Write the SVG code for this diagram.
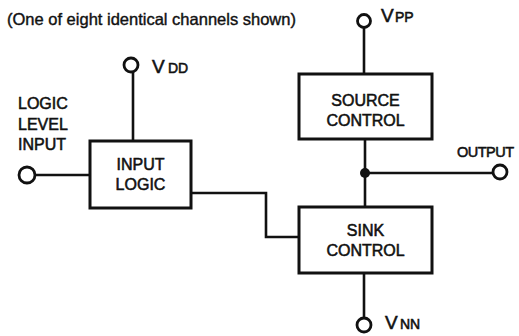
<svg xmlns="http://www.w3.org/2000/svg" width="519" height="336" viewBox="0 0 519 336">
<style>
.t{font-family:"Liberation Sans",Arial,sans-serif;font-size:16px;fill:#111;stroke:#111;stroke-width:0.55}
.c{text-anchor:middle}
.v{font-size:19px}
.s{font-size:14px}
.box{fill:#fff;stroke:#111;stroke-width:3}
.w{fill:none;stroke:#111;stroke-width:2.6}
.pin{fill:#fff;stroke:#111;stroke-width:2.8}
</style>
<rect width="519" height="336" fill="#fff"/>
<text class="t" x="7" y="25" style="font-size:16.5px;stroke-width:0.4">(One of eight identical channels shown)</text>
<g id="connectors">
<line class="w" x1="133" y1="72" x2="133" y2="141"/>
<line class="w" x1="35" y1="175" x2="90" y2="175"/>
<polyline class="w" points="191,193 266,193 266,237 299,237"/>
<line class="w" x1="364" y1="28" x2="364" y2="74"/>
<line class="w" x1="365" y1="139" x2="365" y2="207"/>
<line class="w" x1="365" y1="173" x2="493" y2="173"/>
<line class="w" x1="364" y1="273" x2="364" y2="318"/>
<circle cx="365" cy="173" r="5" fill="#111"/>
</g>
<g id="vdd">
<circle class="pin" cx="131" cy="65" r="7"/>
<text class="t v" x="152" y="73">V</text>
<text class="t s" x="168" y="73">DD</text>
</g>
<g id="vpp">
<circle class="pin" cx="364" cy="21" r="6.5"/>
<text class="t v" x="381" y="22">V</text>
<text class="t s" x="395" y="22">PP</text>
</g>
<g id="vnn">
<circle class="pin" cx="364" cy="325" r="7"/>
<text class="t v" x="385" y="329">V</text>
<text class="t s" x="400" y="329">NN</text>
</g>
<g id="logic-level-input">
<circle class="pin" cx="27" cy="175" r="8"/>
<text class="t" x="18" y="109">LOGIC</text>
<text class="t" x="18" y="130">LEVEL</text>
<text class="t" x="18" y="150">INPUT</text>
</g>
<g id="output">
<circle class="pin" cx="500" cy="172" r="7"/>
<text class="t" x="457" y="157" style="font-size:14.5px;letter-spacing:-0.5px">OUTPUT</text>
</g>
<g id="input-logic">
<rect class="box" x="90" y="141" width="101" height="67"/>
<text class="t c" x="140.5" y="170">INPUT</text>
<text class="t c" x="140.5" y="190">LOGIC</text>
</g>
<g id="source-control">
<rect class="box" x="299" y="74" width="133" height="65"/>
<text class="t c" x="365.5" y="106">SOURCE</text>
<text class="t c" x="365.5" y="126">CONTROL</text>
</g>
<g id="sink-control">
<rect class="box" x="299" y="207" width="133" height="66"/>
<text class="t c" x="365.5" y="236">SINK</text>
<text class="t c" x="365.5" y="256">CONTROL</text>
</g>
</svg>
